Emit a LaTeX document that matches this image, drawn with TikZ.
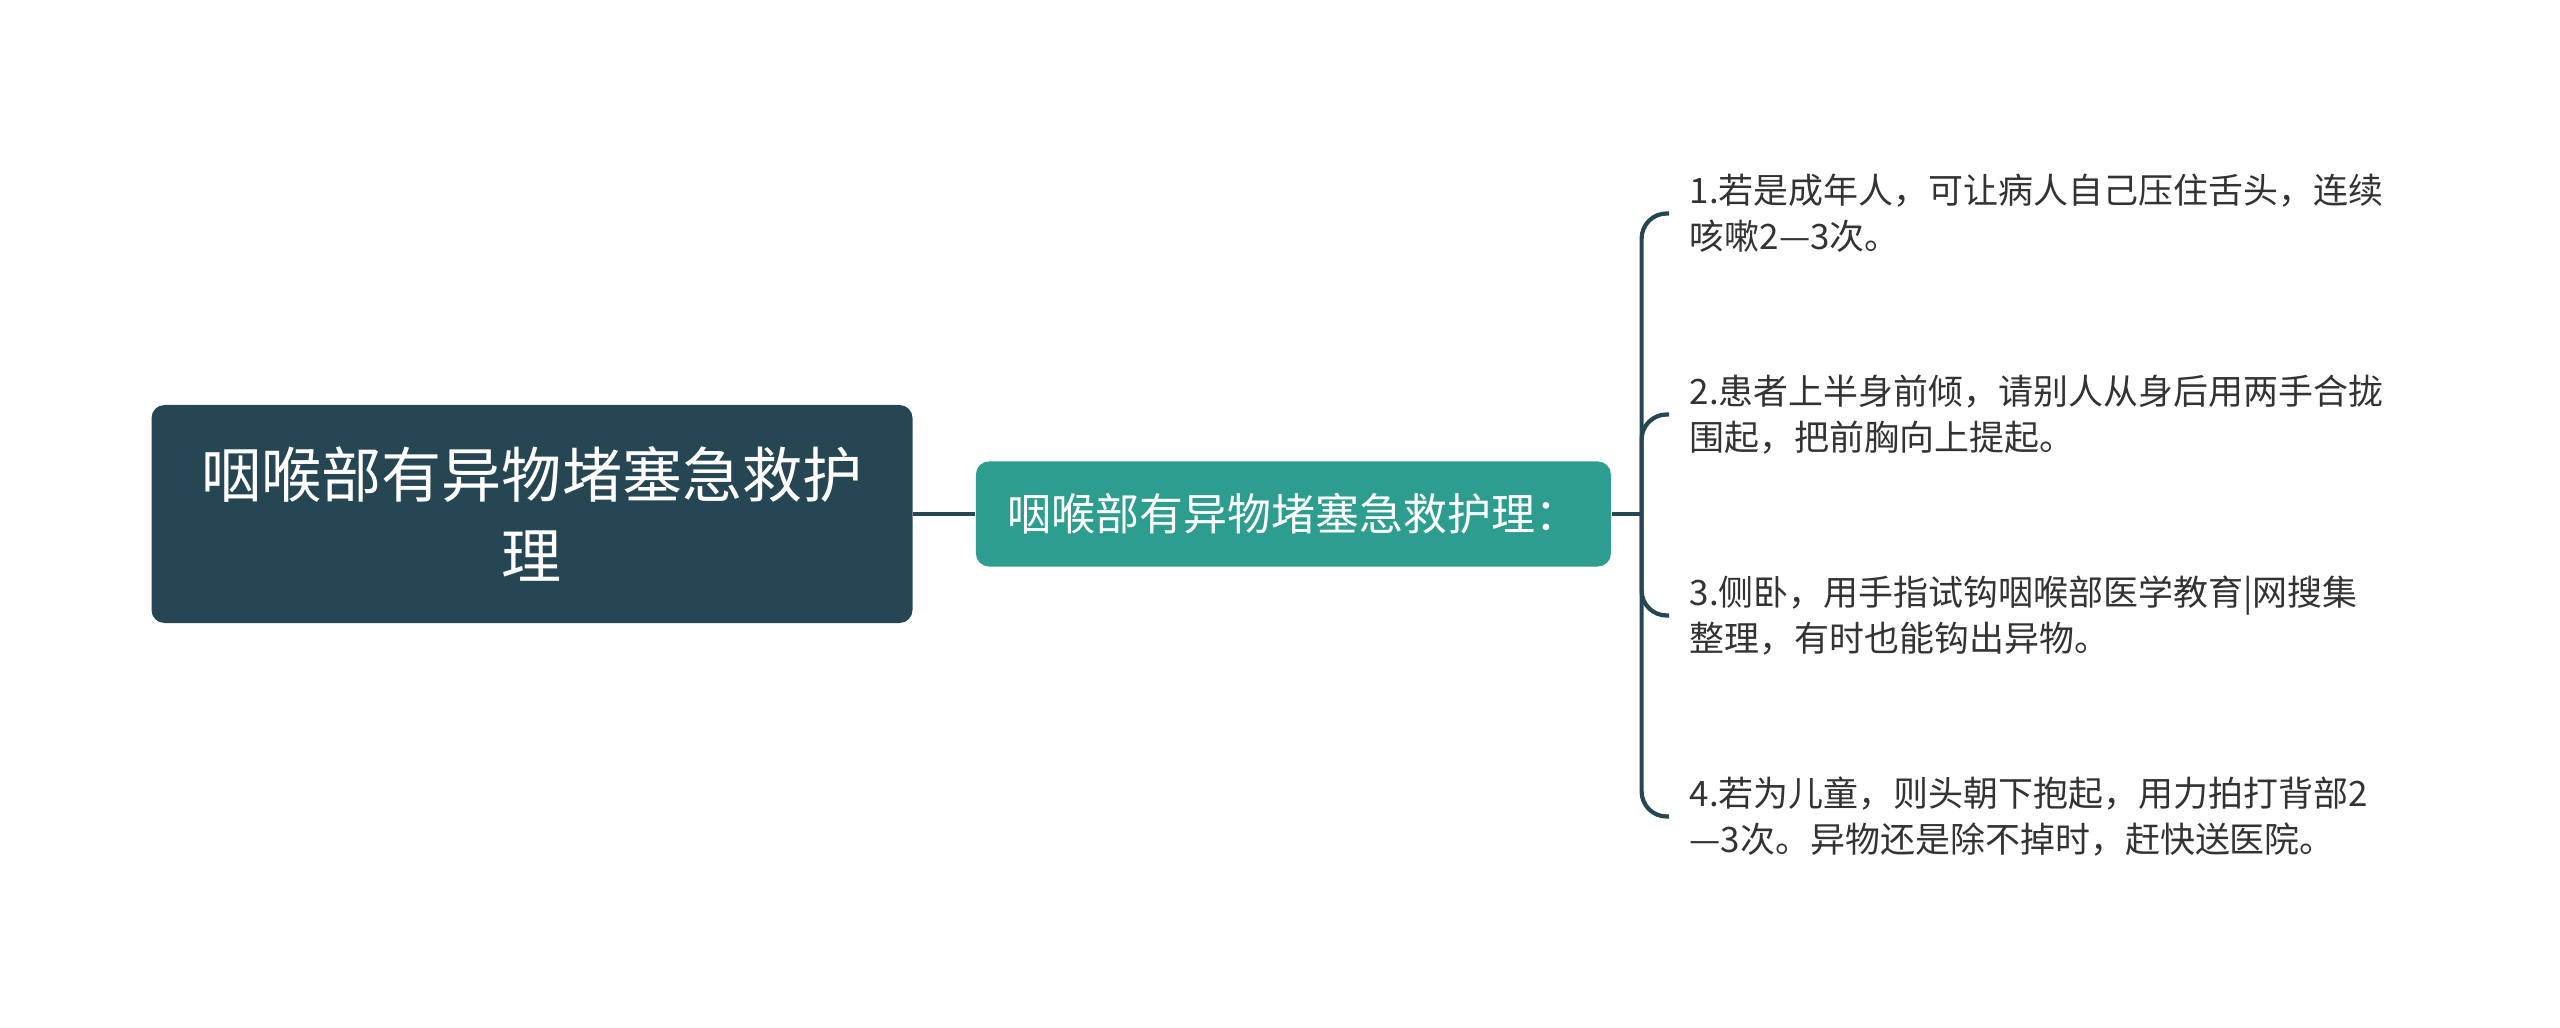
\documentclass[tikz,border=0pt]{standalone}
\usepackage{fontspec}
\setmainfont{Noto Sans CJK SC}
\usetikzlibrary{positioning}
\definecolor{rootcol}{HTML}{264653}
\definecolor{subcol}{HTML}{2C9D8F}
\definecolor{linecol}{HTML}{264653}
\definecolor{leafcol}{HTML}{333333}
\tikzset{
  rootbox/.style={fill=rootcol, text=white, rounded corners=0.13cm,
    minimum width=7.61cm, minimum height=2.18cm, align=center,
    font=\fontsize{17.1pt}{23.3pt}\selectfont},
  subbox/.style={fill=subcol, text=white, rounded corners=0.13cm,
    minimum width=6.35cm, minimum height=1.05cm,
    font=\fontsize{12.5pt}{15pt}\selectfont},
  leaf/.style={anchor=west, inner xsep=0.2cm, inner ysep=0pt, align=left,
    text=leafcol, font=\fontsize{9.95pt}{13.1pt}\selectfont},
  link/.style={draw=linecol, line width=1.2pt},
}
\begin{document}
\begin{tikzpicture}
  \useasboundingbox (0,0) rectangle (25.6,10.27);
  \node[rootbox] (root) at (5.32,5.13) {咽喉部有异物堵塞急救护\\理};
  \node[subbox, right=0.62cm of root] (sub) {咽喉部有异物堵塞急救护理：};
  \coordinate[right=0.3cm of sub] (spine);
  \node[leaf] (t1) at (16.69,8.135) {1.若是成年人，可让病人自己压住舌头，连续\\咳嗽2—3次。};
  \node[leaf] (t2) at (16.69,6.125) {2.患者上半身前倾，请别人从身后用两手合拢\\围起，把前胸向上提起。};
  \node[leaf] (t3) at (16.69,4.115) {3.侧卧，用手指试钩咽喉部医学教育|网搜集\\整理，有时也能钩出异物。};
  \node[leaf] (t4) at (16.69,2.105) {4.若为儿童，则头朝下抱起，用力拍打背部2\\—3次。异物还是除不掉时，赶快送医院。};
  \begin{scope}[link]
    \draw (root) -- (sub);
    \draw (sub) -- (spine);
    \foreach \t in {t1,t2,t3,t4}
      \draw[rounded corners=0.25cm] (spine) |- (\t.west);
  \end{scope}
\end{tikzpicture}
\end{document}
